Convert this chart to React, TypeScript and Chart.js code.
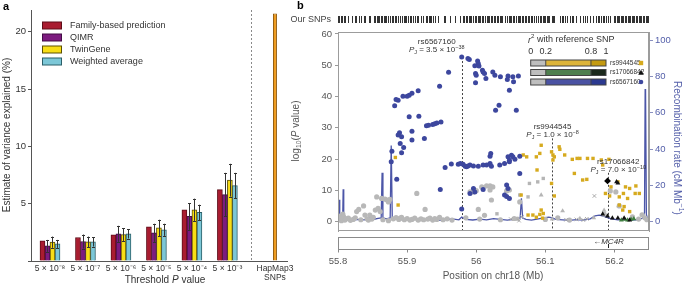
import React, { useEffect, useRef } from 'react';
import { Chart, registerables } from 'chart.js';
Chart.register(...registerables);

const FONT = '"Liberation Sans", Arial, Helvetica, sans-serif';

// ---------------- Panel a data ----------------
const thresholdLabels = ['5 × 10⁻⁸', '5 × 10⁻⁷', '5 × 10⁻⁶', '5 × 10⁻⁵', '5 × 10⁻⁴', '5 × 10⁻³'];
const hapmapLabel = ['HapMap3', 'SNPs'];
const familyBased = [1.75, 2.05, 2.28, 2.98, 4.47, 6.23];
const qimr = [1.32, 1.70, 2.37, 2.46, 3.89, 5.79];
const qimrErr = [0.52, 0.61, 0.70, 0.79, 1.17, 1.90];
const twinGene = [1.64, 1.67, 2.31, 2.89, 4.47, 7.05];
const twinGeneErr = [0.49, 0.46, 0.56, 0.71, 0.97, 1.43];
const weightedAvg = [1.49, 1.67, 2.37, 2.72, 4.24, 6.58];
const weightedAvgErr = [0.35, 0.41, 0.41, 0.53, 0.67, 1.11];
const hapmapSNPs = 21.6;
const varianceTicks = [5, 10, 15, 20];

// ---------------- Panel b data ----------------
const positionTicks = [55.8, 55.9, 56.0, 56.1, 56.2];
const logPTicks = [0, 10, 20, 30, 40, 50, 60];
const recombTicks = [0, 20, 40, 60, 80, 100];

const indexSnps = ['rs6567160', 'rs9944545', 'rs17066842'];
const indexPos = [55.979, 56.109, 56.191];
const indexPMantissa = ['3.5', '1.0', '7.0'];
const indexPExponent = ['38', '8', '10'];
const guideTop = [52.6, 26.6, 15.6];
const ldBreaks = [0, 0.2, 0.8, 1];
const mc4rPos = 56.19;

const recombPos = [55.8, 55.8008, 55.8017, 55.8025, 55.804, 55.8068, 55.8075, 55.8083, 55.81, 55.815, 55.822, 55.83, 55.838, 55.845, 55.852, 55.858, 55.8625, 55.8638, 55.865, 55.87, 55.8755, 55.877, 55.8785, 55.882, 55.888, 55.895, 55.905, 55.915, 55.925, 55.935, 55.945, 55.955, 55.965, 55.975, 55.979, 55.985, 55.995, 56.005, 56.015, 56.025, 56.035, 56.045, 56.055, 56.0635, 56.0654, 56.0672, 56.072, 56.08, 56.09, 56.1, 56.105, 56.11, 56.115, 56.125, 56.135, 56.145, 56.155, 56.165, 56.172, 56.178, 56.184, 56.19, 56.196, 56.205, 56.215, 56.225, 56.235, 56.241, 56.2435, 56.2447, 56.2462, 56.2475, 56.25];
const recombRate = [1.5, 2, 12, 1.5, 1.2, 2, 17.8, 2, 1, 1.5, 0.8, 1.2, 1, 2, 1.3, 1.8, 2, 27, 2, 1.5, 2, 42, 2.5, 1.2, 1.5, 0.8, 1.2, 1.6, 1, 1.3, 0.7, 1.1, 1.5, 1, 2.5, 1.2, 0.9, 1.4, 1, 1.6, 1.2, 0.8, 1.3, 2, 12.9, 2, 1.2, 0.8, 1.5, 2.2, 2.5, 2, 1.2, 1, 0.7, 1.1, 0.9, 1.5, 3.2, 3.6, 3, 2.2, 1.5, 1, 1.2, 0.8, 1.1, 2, 5, 91, 4, 2, 1];

const blueLD: [number, number][] = [
  [55.979, 52.6], [55.988, 52.1], [55.990, 51.8], [56.002, 51.3], [56.003, 50.5], [55.998, 49.8], [56.004, 49.7], [56.009, 48.4], [56.010, 47.8], [56.012, 47.3], [55.999, 47.3], [56.000, 46.8], [56.024, 47.8], [56.027, 46.8], [56.035, 46.3], [56.046, 46.5], [56.053, 46.3], [56.061, 46.5], [56.045, 45.4], [55.999, 44.4], [56.014, 45.7], [56.054, 44.7], [56.048, 42.0], [56.033, 37.2], [56.028, 35.6], [56.058, 35.6],
  [55.960, 47.7], [55.947, 43.3], [55.916, 41.8], [55.907, 41.0], [55.903, 40.4], [55.900, 40.1], [55.894, 40.1], [55.887, 38.8], [55.884, 39.0], [55.882, 37.0], [55.917, 33.7], [55.903, 33.5], [55.928, 30.6], [55.931, 30.8], [55.937, 31.0], [55.940, 31.3], [55.943, 31.5], [55.949, 31.8], [55.907, 28.9], [55.889, 28.4], [55.887, 27.7], [55.892, 27.1], [55.925, 26.6],
  [55.907, 26.1], [55.890, 25.0], [55.895, 23.7], [55.892, 22.0], [55.878, 22.5], [55.877, 19.1], [55.885, 13.5], [55.948, 10.3], [55.955, 17.3],
  [55.964, 18.4], [55.974, 18.3], [55.977, 18.6], [55.981, 18.3], [55.984, 17.7], [55.986, 17.5], [55.988, 17.8], [55.991, 18.1], [55.996, 17.8], [56.003, 17.7], [56.010, 18.1], [56.015, 18.1], [56.020, 18.6], [56.021, 21.8], [56.020, 20.9], [56.022, 17.7], [56.034, 18.1], [56.041, 18.6], [56.046, 20.7], [56.048, 19.6], [56.051, 21.2], [56.053, 20.7], [56.056, 19.9], [56.063, 20.9], [56.048, 19.1], [56.063, 15.4],
  [55.996, 10.6], [55.998, 9.5], [55.991, 9.0], [56.010, 10.3], [56.044, 11.7], [56.046, 10.6], [56.041, 8.5], [56.044, 8.0], [56.048, 7.4], [55.979, 4.0],
];
const goldLD: [number, number][] = [
  [56.094, 24.4], [56.120, 23.9], [56.121, 23.1], [56.109, 22.3], [56.111, 21.3], [56.113, 20.7], [56.111, 19.7], [56.128, 21.3], [56.146, 20.2], [56.150, 20.2], [56.161, 20.2], [56.139, 19.9], [56.142, 15.4], [56.154, 13.3], [56.160, 13.5], [56.109, 12.2], [56.113, 8.2], [56.068, 21.3], [56.073, 20.7], [56.181, 19.7], [56.192, 19.9], [56.183, 18.1], [56.195, 11.1], [56.187, 9.0], [56.193, 8.2], [56.205, 12.7], [56.216, 11.1], [56.213, 9.0], [56.219, 7.4], [56.231, 11.4], [56.230, 9.0], [56.207, 7.9], [56.214, 4.8], [56.207, 5.3], [56.222, 3.2], [56.087, 20.7], [56.092, 21.8], [56.088, 16.5], [56.065, 8.5], [56.075, 2.1], [56.082, 2.1], [56.092, 2.3], [56.097, 2.6], [56.094, 3.7], [56.096, 1.1], [56.087, 1.4], [56.169, 20.2], [56.222, 10.6], [56.236, 9.0], [56.212, 3.7], [55.883, 20.5], [55.887, 5.3],
];
const grayCircles: [number, number][] = [
  [55.802, 0.6], [55.803, 1.8], [55.805, 0.3], [55.806, 1.1], [55.807, 2.4], [55.808, 1.6], [55.810, 0.5], [55.812, 0.9], [55.815, 1.1], [55.818, 0.4], [55.822, 0.7], [55.825, 1.2], [55.827, 3.2], [55.830, 3.9], [55.833, 0.6], [55.837, 5.0], [55.839, 2.1], [55.842, 0.9], [55.844, 0.5], [55.846, 2.1], [55.849, 0.8], [55.851, 1.4], [55.854, 3.7], [55.856, 7.9], [55.858, 4.2], [55.861, 3.2], [55.863, 7.4], [55.865, 0.6], [55.868, 7.2], [55.871, 6.9], [55.873, 6.3], [55.873, 0.3], [55.875, 7.1], [55.880, 0.9], [55.884, 1.3], [55.888, 0.7], [55.890, 1.1], [55.892, 1.4], [55.896, 0.6], [55.900, 1.0], [55.904, 0.5], [55.907, 0.7], [55.911, 1.1], [55.914, 9.0], [55.916, 0.5], [55.920, 0.9], [55.924, 0.6], [55.926, 3.9], [55.930, 0.8], [55.933, 1.1], [55.937, 0.5], [55.940, 1.0], [55.943, 0.7], [55.947, 1.4], [55.952, 0.6], [55.958, 0.9], [55.965, 0.5],
  [55.985, 1.2], [56.005, 0.8], [56.012, 2.0], [55.991, 9.5], [55.996, 9.5], [56.000, 9.9], [56.008, 11.1], [56.015, 11.4], [56.020, 11.4], [56.024, 11.1], [56.020, 10.1], [56.022, 6.9], [56.003, 3.9], [56.044, 9.8], [56.048, 10.1], [56.063, 6.3], [56.035, 0.6], [56.055, 1.0], [56.100, 0.7], [56.118, 1.2], [56.135, 0.5], [56.185, 2.4], [56.194, 9.8], [56.202, 9.5], [56.207, 5.0], [56.226, 1.5], [56.235, 0.8], [56.240, 2.2], [56.244, 1.2], [56.247, 0.6],
];
const graySquares: [number, number][] = [[56.077, 12.2], [56.089, 12.7], [56.097, 13.8], [56.063, 8.5], [56.075, 7.9], [56.030, 2.5], [56.060, 1.0]];
const grayTriangles: [number, number][] = [[56.125, 3.4], [56.206, 5.0], [56.094, 8.5], [56.150, 1.0], [56.170, 1.2], [56.185, 3.6], [56.110, 0.8], [56.060, 0.7]];
const grayCrosses: [number, number][] = [[56.171, 8.2], [56.050, 0.8], [56.062, 0.3], [56.130, 0.6], [56.145, 0.7], [56.155, 0.5], [56.160, 0.9], [56.066, 1.5]];
const blackTriangles: [number, number][] = [[56.203, 12.7], [56.205, 12.3], [56.183, 2.4], [56.190, 1.8], [56.197, 1.1], [56.205, 1.1], [56.214, 1.1], [56.222, 0.5]];
const greenTriangles: [number, number][] = [[56.210, 0.5], [56.215, 0.7], [56.219, 0.5], [56.224, 0.7], [56.228, 0.9]];
const indexDiamond: [number, number][] = [[56.190, 13.0]];

const ourSNPs = [
  55.800, 55.802, 55.804, 55.806, 55.808, 55.810,
  55.815, 55.820, 55.825, 55.826, 55.831, 55.834, 55.837, 55.839, 55.845, 55.847,
  55.852, 55.854, 55.856, 55.858, 55.860, 55.862, 55.864, 55.866, 55.868, 55.870, 55.872, 55.875,
  55.878, 55.880, 55.882, 55.884, 55.887, 55.890, 55.892, 55.895, 55.897, 55.899, 55.901,
  55.904, 55.906, 55.908, 55.911, 55.914, 55.916, 55.920, 55.923, 55.927, 55.929, 55.931, 55.933, 55.935, 55.938, 55.940,
  55.945, 55.953, 55.955, 55.962, 55.969, 55.976,
  55.981, 55.983, 55.985, 55.987, 55.989, 55.991, 55.993, 55.996, 55.998, 56.000, 56.002, 56.004, 56.006, 56.008, 56.010, 56.013, 56.015, 56.017, 56.019, 56.021, 56.023, 56.025, 56.027, 56.030, 56.032, 56.034, 56.036, 56.038, 56.042, 56.045, 56.047, 56.049, 56.051, 56.053, 56.055, 56.057, 56.060, 56.062, 56.064, 56.066, 56.068, 56.070, 56.072, 56.075, 56.077, 56.079, 56.081, 56.083, 56.087, 56.089, 56.092, 56.094, 56.096, 56.098, 56.100, 56.102, 56.104, 56.106, 56.109, 56.111, 56.113,
  56.121, 56.124, 56.126, 56.129, 56.131, 56.135, 56.138, 56.140, 56.145, 56.150, 56.154, 56.158, 56.160, 56.164, 56.169, 56.174, 56.176, 56.178, 56.181, 56.183, 56.185, 56.188, 56.191, 56.193,
  56.199, 56.201, 56.203, 56.205, 56.207, 56.209, 56.211, 56.213, 56.215, 56.217, 56.219, 56.221, 56.223, 56.225, 56.227, 56.229, 56.231, 56.233, 56.235, 56.237, 56.239, 56.241, 56.243, 56.245, 56.247, 56.249,
];

// ---------------- helpers ----------------
type Seg = { t: string; i?: boolean; b?: boolean; sup?: boolean; sub?: boolean };
function segFont(s: Seg, size: number) {
  const sz = s.sup || s.sub ? size * 0.68 : size;
  return `${s.i ? 'italic ' : ''}${s.b ? 'bold ' : ''}${sz}px ${FONT}`;
}
function drawRich(ctx: CanvasRenderingContext2D, segs: Seg[], x: number, y: number, size: number, color: string, align: 'left' | 'center' | 'right' = 'left') {
  ctx.save();
  ctx.fillStyle = color;
  ctx.textBaseline = 'middle';
  ctx.textAlign = 'left';
  let w = 0;
  for (const s of segs) { ctx.font = segFont(s, size); w += ctx.measureText(s.t).width; }
  let cx = align === 'center' ? x - w / 2 : align === 'right' ? x - w : x;
  for (const s of segs) {
    ctx.font = segFont(s, size);
    const dy = s.sup ? -size * 0.36 : s.sub ? size * 0.3 : 0;
    ctx.fillText(s.t, cx, y + dy);
    cx += ctx.measureText(s.t).width;
  }
  ctx.restore();
}
function drawRotated(ctx: CanvasRenderingContext2D, segs: Seg[], x: number, y: number, angle: number, size: number, color: string) {
  ctx.save();
  ctx.translate(x, y);
  ctx.rotate(angle);
  drawRich(ctx, segs, 0, 0, size, color, 'center');
  ctx.restore();
}
const pts = (arr: [number, number][]) => arr.map(([x, y]) => ({ x, y }));

export default function App() {
  const refA = useRef<HTMLCanvasElement>(null);
  const refB = useRef<HTMLCanvasElement>(null);

  useEffect(() => {
    Chart.defaults.font.family = FONT;

    // ===== Panel a =====
    const groupX = [0, 1, 2, 3, 4, 5];
    const hapmapX = 6.34;
    const tickPositions = [...groupX, hapmapX];
    const tickLabels: (string | string[])[] = [...thresholdLabels, hapmapLabel];
    const errs = [null, qimrErr, twinGeneErr, weightedAvgErr];
    const barSeries = [
      { label: 'Family-based prediction', values: familyBased, fill: '#A91C30', line: '#5e0d18' },
      { label: 'QIMR', values: qimr, fill: '#7C1B7F', line: '#430c45' },
      { label: 'TwinGene', values: twinGene, fill: '#F8DE16', line: '#5c5000' },
      { label: 'Weighted average', values: weightedAvg, fill: '#7CC7D7', line: '#2b5f69' },
    ];

    const panelA = {
      id: 'panelA',
      afterDatasetsDraw(chart: any) {
        const { ctx, scales: { y } } = chart;
        ctx.save();
        ctx.strokeStyle = '#333';
        ctx.lineWidth = 1;
        errs.forEach((e, di) => {
          if (!e) return;
          const meta = chart.getDatasetMeta(di);
          meta.data.forEach((bar: any, i: number) => {
            const v = barSeries[di].values[i];
            const px = Math.round(bar.x) + 0.5;
            const t = y.getPixelForValue(v + e[i]);
            const b = y.getPixelForValue(v - e[i]);
            ctx.beginPath();
            ctx.moveTo(px, t); ctx.lineTo(px, b);
            ctx.moveTo(px - 1.5, Math.round(t) + 0.5); ctx.lineTo(px + 1.5, Math.round(t) + 0.5);
            ctx.moveTo(px - 1.5, Math.round(b) + 0.5); ctx.lineTo(px + 1.5, Math.round(b) + 0.5);
            ctx.stroke();
          });
        });
        ctx.restore();
      },
      afterDraw(chart: any) {
        const { ctx, chartArea: ca, scales: { x } } = chart;
        ctx.save();
        // separator
        const sx = Math.round(x.getPixelForValue((groupX[5] + hapmapX) / 2)) + 0.5;
        ctx.strokeStyle = '#8a8a8a';
        ctx.setLineDash([2, 2]);
        ctx.beginPath(); ctx.moveTo(sx, ca.top); ctx.lineTo(sx, ca.bottom); ctx.stroke();
        ctx.setLineDash([]);
        // legend
        barSeries.forEach((s, i) => {
          const cy = 25.5 + i * 12;
          ctx.fillStyle = s.fill;
          ctx.fillRect(42, cy - 3.5, 20, 7);
          ctx.strokeStyle = s.line;
          ctx.strokeRect(42.5, cy - 3.5, 19, 7);
          drawRich(ctx, [{ t: s.label }], 70, cy, 9, '#333');
        });
        ctx.restore();
        drawRich(ctx, [{ t: 'a', b: true }], 3, 7, 11, '#000');
        drawRotated(ctx, [{ t: 'Estimate of variance explained (%)' }], 7, 135, -Math.PI / 2, 10, '#333');
        drawRich(ctx, [{ t: 'Threshold ' }, { t: 'P', i: true }, { t: ' value' }], 165, 280, 10, '#333', 'center');
      },
    };

    const chartA = new Chart(refA.current as HTMLCanvasElement, {
      type: 'bar',
      data: {
        datasets: [
          ...barSeries.map((s) => ({
            label: s.label,
            data: groupX.map((gx, i) => ({ x: gx, y: s.values[i] })),
            backgroundColor: s.fill,
            borderColor: s.line,
            borderWidth: 1,
            barThickness: 5,
          })),
          {
            label: 'HapMap3 SNPs',
            data: [{ x: hapmapX, y: hapmapSNPs }],
            backgroundColor: '#EE9A1C',
            borderColor: '#8a5100',
            borderWidth: 1,
            grouped: false,
            maxBarThickness: 4,
          },
        ],
      } as any,
      options: {
        animation: false,
        responsive: false,
        devicePixelRatio: 1,
        layout: { padding: { left: 0, right: 13, top: 10, bottom: 0 } },
        plugins: { legend: { display: false }, tooltip: { enabled: false } },
        scales: {
          x: {
            type: 'linear',
            min: -0.535,
            max: 6.68,
            offset: false,
            grid: { display: false, drawTicks: false },
            border: { display: true, color: '#555' },
            afterBuildTicks: (s: any) => { s.ticks = tickPositions.map((v) => ({ value: v })); },
            afterFit: (s: any) => { s.height = 25; },
            ticks: {
              autoSkip: false,
              maxRotation: 0,
              padding: 3,
              color: '#333',
              font: { size: 8.5, lineHeight: 1.05 },
              callback: (_v: any, i: number) => tickLabels[i],
            },
          },
          y: {
            min: 0,
            max: 21.9,
            grid: { drawOnChartArea: false, drawTicks: true, tickLength: 3, color: '#555' },
            border: { display: true, color: '#555' },
            afterBuildTicks: (s: any) => { s.ticks = [0, ...varianceTicks].map((v) => ({ value: v })); },
            afterFit: (s: any) => { s.width = 31; },
            ticks: { padding: 2, color: '#333', font: { size: 9.5 }, callback: (v: any) => (v === 0 ? '' : String(v)) },
          },
        },
      } as any,
      plugins: [panelA],
    });

    // ===== Panel b =====
    const ldRows = [
      { name: indexSnps[1], colors: ['#BEBEBE', '#DDB43A', '#C49A10'], sym: 'square', symColor: '#D6AA1E' },
      { name: indexSnps[2], colors: ['#BEBEBE', '#4F7F4F', '#1B291B'], sym: 'triangle', symColor: '#111' },
      { name: indexSnps[0], colors: ['#BEBEBE', '#4A52A3', '#2B3990'], sym: 'circle', symColor: '#3D479E' },
    ];

    const panelB = {
      id: 'panelB',
      beforeDatasetsDraw(chart: any) {
        const { ctx, chartArea: ca, scales: { x, y } } = chart;
        ctx.save();
        ctx.strokeStyle = '#444';
        ctx.lineWidth = 1;
        ctx.setLineDash([2, 2]);
        indexPos.forEach((p, i) => {
          const px = Math.round(x.getPixelForValue(p)) + 0.5;
          ctx.beginPath();
          ctx.moveTo(px, y.getPixelForValue(guideTop[i]));
          ctx.lineTo(px, ca.bottom);
          ctx.stroke();
        });
        ctx.restore();
      },
      afterDraw(chart: any) {
        const { ctx, chartArea: ca, scales: { x } } = chart;
        ctx.save();
        // frame
        ctx.strokeStyle = '#9c9c9c';
        ctx.lineWidth = 1;
        ctx.strokeRect(Math.round(ca.left) + 0.5, Math.round(ca.top) + 0.5, Math.round(ca.right - ca.left) - 1, Math.round(ca.bottom - ca.top) - 1);

        // index SNP labels
        const labelDx = [-25, 1, 10];
        const labelY = [42, 127, 162];
        indexSnps.forEach((name, i) => {
          const px = x.getPixelForValue(indexPos[i]) + labelDx[i];
          drawRich(ctx, [{ t: name }], px, labelY[i], 8, '#333', 'center');
          drawRich(ctx, [{ t: 'P', i: true }, { t: 'J', sub: true }, { t: ` = ${indexPMantissa[i]} × 10` }, { t: `−${indexPExponent[i]}`, sup: true }], px, labelY[i] + 8, 8, '#333', 'center');
        });

        // LD legend
        ctx.fillStyle = '#fff';
        ctx.fillRect(239, ca.top + 1, 124, 88 - ca.top);
        drawRich(ctx, [{ t: 'r', i: true }, { t: '2', sup: true }, { t: ' with reference SNP' }], 243, 40, 9, '#333');
        const lx0 = 245.7, lx1 = 321;
        ldBreaks.forEach((b) => drawRich(ctx, [{ t: String(b) }], lx0 + b * (lx1 - lx0), 51.5, 9, '#333', 'center'));
        ldRows.forEach((row, r) => {
          const top = 60 + r * 9.5;
          for (let k = 0; k < 3; k++) {
            const a = lx0 + ldBreaks[k] * (lx1 - lx0);
            const b = lx0 + ldBreaks[k + 1] * (lx1 - lx0);
            ctx.fillStyle = row.colors[k];
            ctx.fillRect(a, top, b - a, 6);
          }
          ctx.strokeStyle = '#444';
          ctx.strokeRect(lx0, top, lx1 - lx0, 6);
          ctx.beginPath();
          [1, 2].forEach((k) => { const a = lx0 + ldBreaks[k] * (lx1 - lx0); ctx.moveTo(a, top); ctx.lineTo(a, top + 6); });
          ctx.stroke();
          drawRich(ctx, [{ t: row.name }], 325, top + 3, 6.5, '#333');
          ctx.fillStyle = row.symColor;
          const sx = 356, sy = top + 3;
          ctx.beginPath();
          if (row.sym === 'square') ctx.rect(sx - 2.2, sy - 2.2, 4.4, 4.4);
          else if (row.sym === 'triangle') { ctx.moveTo(sx, sy - 2.8); ctx.lineTo(sx + 2.8, sy + 2.2); ctx.lineTo(sx - 2.8, sy + 2.2); ctx.closePath(); }
          else ctx.arc(sx, sy, 2.3, 0, Math.PI * 2);
          ctx.fill();
        });

        // gene track
        const gTop = 237.5, gBot = 249.5;
        ctx.strokeStyle = '#8a8a8a';
        ctx.strokeRect(Math.round(ca.left) + 0.5, gTop, Math.round(ca.right - ca.left) - 1, gBot - gTop);
        ctx.beginPath();
        positionTicks.forEach((v) => {
          const px = Math.round(x.getPixelForValue(v)) + 0.5;
          ctx.moveTo(px, gBot); ctx.lineTo(px, gBot + 3);
        });
        ctx.stroke();
        const gx = x.getPixelForValue(mc4rPos);
        drawRich(ctx, [{ t: '←' }, { t: 'MC4R', i: true }], gx + 1, 241.5, 8, '#333', 'center');
        ctx.strokeStyle = '#222';
        ctx.beginPath(); ctx.moveTo(Math.round(gx) + 0.5, 244); ctx.lineTo(Math.round(gx) + 0.5, 248); ctx.stroke();

        // rug of our SNPs
        ctx.strokeStyle = '#333';
        ctx.beginPath();
        ourSNPs.forEach((p) => {
          const px = Math.round(x.getPixelForValue(p)) + 0.5;
          ctx.moveTo(px, 16); ctx.lineTo(px, 23);
        });
        ctx.stroke();
        ctx.restore();

        drawRich(ctx, [{ t: 'Our SNPs' }], 46, 19.5, 9, '#444', 'right');
        drawRich(ctx, [{ t: 'b', b: true }], 12, 6, 11, '#000');
        drawRotated(ctx, [{ t: 'log' }, { t: '10', sub: true }, { t: '(' }, { t: 'P', i: true }, { t: ' value)' }], 11, 131, -Math.PI / 2, 10, '#555');
        drawRotated(ctx, [{ t: 'Recombination rate (cM Mb' }, { t: '−1', sup: true }, { t: ')' }], 392, 148, Math.PI / 2, 10, '#5560AA');
        drawRich(ctx, [{ t: 'Position on chr18 (Mb)' }], 208, 276, 10, '#555', 'center');
      },
    };

    const pointDs = (label: string, arr: [number, number][], style: string, color: string, radius: number, order: number, extra: any = {}) => ({
      label,
      data: pts(arr),
      pointStyle: style,
      pointRadius: radius,
      pointBackgroundColor: color,
      pointBorderColor: color,
      pointBorderWidth: 0,
      showLine: false,
      order,
      yAxisID: 'y',
      ...extra,
    });

    const chartB = new Chart(refB.current as HTMLCanvasElement, {
      type: 'scatter',
      data: {
        datasets: [
          pointDs('index', indexDiamond, 'rectRot', '#000', 3.4, 0),
          pointDs('black', blackTriangles, 'triangle', '#111', 2.8, 1),
          pointDs('green', greenTriangles, 'triangle', '#3F7F3F', 2.8, 1),
          pointDs('blue', blueLD, 'circle', '#3D479E', 2.5, 2),
          pointDs('gold', goldLD, 'rect', '#D6AA1E', 2.4, 3),
          pointDs('grayCross', grayCrosses, 'crossRot', '#a8a8a8', 2.5, 4, { pointBorderWidth: 1 }),
          pointDs('grayTri', grayTriangles, 'triangle', '#B5B5B5', 2.8, 4),
          pointDs('graySq', graySquares, 'rect', '#B5B5B5', 2.4, 4),
          pointDs('gray', grayCircles, 'circle', '#B8B8B8', 2.6, 5),
          {
            label: 'recombination',
            data: recombPos.map((p, i) => ({ x: p, y: recombRate[i] })),
            showLine: true,
            borderColor: '#4C56A8',
            borderWidth: 1.3,
            pointRadius: 0,
            yAxisID: 'y2',
            order: 10,
          },
        ],
      } as any,
      options: {
        animation: false,
        responsive: false,
        devicePixelRatio: 1,
        layout: { padding: { left: 0, right: 0, top: 32, bottom: 0 } },
        plugins: { legend: { display: false }, tooltip: { enabled: false } },
        scales: {
          x: {
            type: 'linear',
            min: 55.8,
            max: 56.25,
            grid: { display: false, drawTicks: false },
            border: { display: false },
            afterBuildTicks: (s: any) => { s.ticks = positionTicks.map((v) => ({ value: v })); },
            afterFit: (s: any) => { s.height = 55; },
            ticks: {
              padding: 25,
              color: '#555',
              font: { size: 9.5 },
              maxRotation: 0,
              callback: (v: any) => (Math.abs(v - 56) < 1e-9 ? '56' : Number(v).toFixed(1)),
            },
          },
          y: {
            position: 'left',
            min: -3,
            max: 60.6,
            grid: { drawOnChartArea: false, drawTicks: true, tickLength: 3, color: '#999' },
            border: { display: true, color: '#9c9c9c' },
            afterBuildTicks: (s: any) => { s.ticks = logPTicks.map((v) => ({ value: v })); },
            afterFit: (s: any) => { s.width = 53; },
            ticks: { padding: 3, color: '#555', font: { size: 9.5 } },
          },
          y2: {
            position: 'right',
            min: -5.18,
            max: 104.6,
            grid: { drawOnChartArea: false, drawTicks: true, tickLength: 4, color: '#8a90c0' },
            border: { display: true, color: '#9c9c9c' },
            afterBuildTicks: (s: any) => { s.ticks = recombTicks.map((v) => ({ value: v })); },
            afterFit: (s: any) => { s.width = 36; },
            ticks: { padding: 2, color: '#5560AA', font: { size: 9.5 } },
          },
        },
      } as any,
      plugins: [panelB],
    });

    return () => {
      chartA.destroy();
      chartB.destroy();
    };
  }, []);

  return (
    <div style={{ position: 'fixed', left: 0, top: 0, width: 685, height: 286, background: '#fff', overflow: 'hidden' }}>
      <canvas ref={refA} width={300} height={286} style={{ position: 'absolute', left: 0, top: 0, width: 300, height: 286 }} />
      <canvas ref={refB} width={400} height={286} style={{ position: 'absolute', left: 285, top: 0, width: 400, height: 286 }} />
    </div>
  );
}
